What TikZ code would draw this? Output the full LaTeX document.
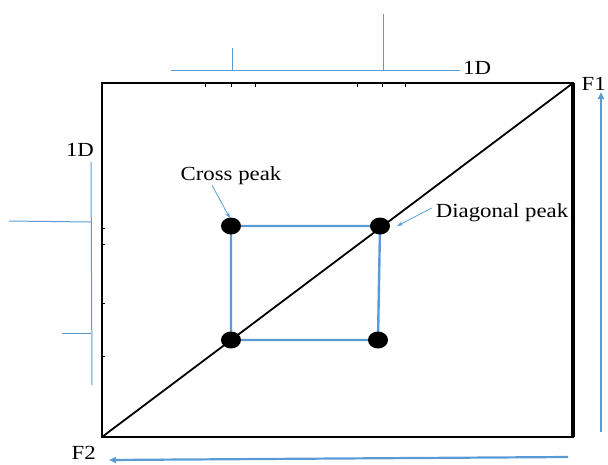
\documentclass[tikz,border=0pt]{standalone}
\usepackage{fontspec}
\setmainfont{Liberation Serif}
\usetikzlibrary{shapes.geometric,arrows.meta}
\definecolor{specblue}{RGB}{91,155,213}
\newcommand{\wide}[1]{\scalebox{1.14}[1]{#1}}
\begin{document}
\begin{tikzpicture}[x=1pt,y=-1pt,
  peak/.style={ellipse,fill=black,minimum width=20pt,minimum height=17pt,inner sep=0pt},
  sqline/.style={specblue,line width=2.4pt},
  spec/.style={specblue,line width=1pt},
  lbl/.style={font=\fontsize{20}{22}\selectfont,inner sep=0pt},
  callout/.style={specblue,line width=0.8pt,-{Stealth[length=6pt,width=4pt]}},
  axisarrow/.style={specblue,line width=2.2pt,-{Triangle[length=7pt,width=6pt]}},
  tick/.style={black,line width=0.8pt}]
\useasboundingbox (0,0) rectangle (608,464);
% box
\coordinate (tl) at (102,83);
\coordinate (tr) at (573,83);
\coordinate (br) at (573,437);
\coordinate (bl) at (102,437);
\draw[line width=2pt] (tl) -- (tr) -- (br) -- (bl) -- cycle;
\draw[line width=3.2pt] (tr) -- (br);
% ticks
\foreach \x in {205,231,255,357,382,405} \draw[tick] (\x,84) -- (\x,87);
\foreach \y in {228,244,303,356} \draw[tick] (101,\y) -- (105,\y);
% diagonal
\draw[line width=1.8pt] (bl) -- (tr);
% peaks
\coordinate (c1) at (231,226);
\coordinate (c2) at (380,226);
\coordinate (c3) at (378,340);
\coordinate (c4) at (231,340);
\draw[sqline] (c1) -- (c2) -- (c3) -- (c4) -- cycle;
\node[peak] (p1) at (c1) {};
\node[peak] (p2) at (c2) {};
\node[peak] (p3) at (c3) {};
\node[peak] (p4) at (c4) {};
% labels
\node[lbl] (cl) at (231,176) {\wide{Cross peak}};
\draw[callout] ([xshift=-19pt]cl.south) -- ([xshift=-1pt,yshift=-1pt]p1.north);
\node[lbl] (dl) at (502,213) {\wide{Diagonal peak}};
\draw[callout] (dl.west) ++(-4pt,5pt) coordinate (dls) -- ([xshift=7pt]p2.east);
% top 1D spectrum
\coordinate (ta) at (171,70);
\coordinate (tb) at (460,70);
\coordinate (t1a) at (232,70);
\coordinate (t1b) at (232,48);
\coordinate (t2a) at (383,70);
\coordinate (t2b) at (383,14);
\draw[spec] (ta) -- (tb);
\draw[spec] (t1a) -- (t1b);
\draw[spec] (t2a) -- (t2b);
\node[lbl,anchor=west] (td) at (463,68) {\wide{1D}};
% left 1D spectrum
\coordinate (la) at (91,162);
\coordinate (lb) at (92,385);
\coordinate (l1a) at (91,222);
\coordinate (l1b) at (9,221);
\coordinate (l2a) at (91,333);
\coordinate (l2b) at (62,333);
\draw[spec] (la) -- (lb);
\draw[spec] (l1a) -- (l1b);
\draw[spec] (l2a) -- (l2b);
\node[lbl] (ld) at (80,150) {\wide{1D}};
% axes
\coordinate (f1s) at (601,432);
\coordinate (f1e) at (601,92);
\draw[axisarrow] (f1s) -- (f1e);
\node[lbl,anchor=east] (f1) at (606,84) {\wide{F1}};
\coordinate (f2s) at (568,457);
\coordinate (f2e) at (109,460);
\draw[axisarrow] (f2s) -- (f2e);
\node[lbl,anchor=east] (f2) at (96,453) {\wide{F2}};
\end{tikzpicture}
\end{document}
